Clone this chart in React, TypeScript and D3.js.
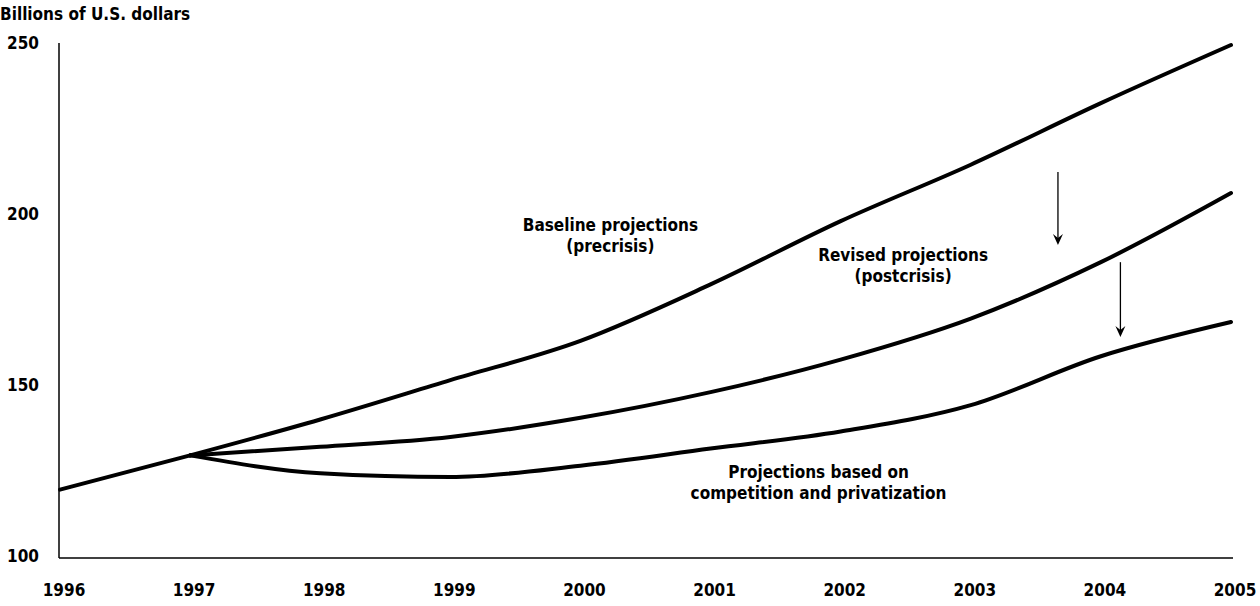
import React, { useEffect, useRef } from "react";
import * as d3 from "d3";

const years = [1996, 1997, 1998, 1999, 2000, 2001, 2002, 2003, 2004, 2005];
const baseline = [120, 130, 140.5, 152, 163.5, 180, 198.5, 215, 233, 250];
const revised = [120, 130, 132.5, 135.4, 141, 148.5, 158, 170, 186.5, 206.7];
const competition = [120, 130, 124.8, 123.7, 127, 132, 137, 144.7, 159, 169];
const yTicks = [100, 150, 200, 250];

// arrows: [year, from, to]
const arrows: [number, number, number][] = [
  [2003.67, 212.9, 191.5],
  [2004.15, 186.5, 164.6],
];

// labels: [year, value, lines]
const labels: [number, number, string[]][] = [
  [2000.23, 195.6, ["Baseline projections", "(precrisis)"]],
  [2002.48, 186.8, ["Revised projections", "(postcrisis)"]],
  [2001.83, 123.4, ["Projections based on", "competition and privatization"]],
];

const FONT = "'Liberation Sans Narrow', 'DejaVu Sans Condensed', 'Roboto Condensed', sans-serif";

const App: React.FC = () => {
  const svgRef = useRef<SVGSVGElement>(null);

  useEffect(() => {
    const width = 1260;
    const height = 606;
    const left = 60;
    const right = 1231;
    const top = 45;
    const bottom = 558;

    const svg = d3.select(svgRef.current).attr("width", width).attr("height", height);
    svg.selectAll("*").remove();

    const x = d3.scaleLinear().domain([1996, 2005]).range([left, right]);
    const y = d3.scaleLinear().domain([100, 250]).range([bottom, top]);

    // axes
    svg
      .append("line")
      .attr("x1", left - 1)
      .attr("x2", left - 1)
      .attr("y1", top - 2)
      .attr("y2", bottom)
      .attr("stroke", "#000")
      .attr("stroke-width", 1.5);
    svg
      .append("line")
      .attr("x1", left - 1)
      .attr("x2", right + 2)
      .attr("y1", bottom)
      .attr("y2", bottom)
      .attr("stroke", "#000")
      .attr("stroke-width", 1.5);

    svg
      .append("text")
      .attr("x", 0)
      .attr("y", 20)
      .attr("font-family", FONT)
      .attr("font-weight", "bold")
      .attr("font-size", 17)
      .text("Billions of U.S. dollars");

    svg
      .selectAll(".ytick")
      .data(yTicks)
      .enter()
      .append("text")
      .attr("x", 39)
      .attr("y", (d) => y(d) - 2)
      .attr("dy", "0.35em")
      .attr("text-anchor", "end")
      .attr("font-family", FONT)
      .attr("font-weight", "bold")
      .attr("font-size", 17)
      .text((d) => d);

    svg
      .selectAll(".xtick")
      .data(years)
      .enter()
      .append("text")
      .attr("x", (d) => x(d) + 4)
      .attr("y", 596)
      .attr("text-anchor", "middle")
      .attr("font-family", FONT)
      .attr("font-weight", "bold")
      .attr("font-size", 17)
      .text((d) => d);

    // shared straight segment 1996-1997, then smooth projections
    const straight = d3
      .line<number>()
      .x((_, i) => x(years[i]))
      .y((d) => y(d));
    const smooth = d3
      .line<number>()
      .x((_, i) => x(years[i + 1]))
      .y((d) => y(d))
      .curve(d3.curveMonotoneX);

    [competition, revised, baseline].forEach((s) => {
      svg
        .append("path")
        .attr("d", smooth(s.slice(1)))
        .attr("fill", "none")
        .attr("stroke", "#000")
        .attr("stroke-width", 4)
        .attr("stroke-linecap", "round")
        .attr("stroke-linejoin", "round");
    });
    svg
      .append("path")
      .attr("d", straight(baseline.slice(0, 2)))
      .attr("fill", "none")
      .attr("stroke", "#000")
      .attr("stroke-width", 4)
      .attr("stroke-linecap", "round");

    // arrows
    arrows.forEach(([yr, a, b]) => {
      const ax = x(yr);
      svg
        .append("line")
        .attr("x1", ax)
        .attr("x2", ax)
        .attr("y1", y(a))
        .attr("y2", y(b) - 6)
        .attr("stroke", "#000")
        .attr("stroke-width", 1.3);
      svg
        .append("path")
        .attr("d", `M${ax - 5},${y(b) - 11} L${ax},${y(b)} L${ax + 5},${y(b) - 11} L${ax},${y(b) - 7} Z`)
        .attr("fill", "#000");
    });

    labels.forEach(([yr, v, lines]) => {
      const t = svg
        .append("text")
        .attr("x", x(yr))
        .attr("y", y(v))
        .attr("text-anchor", "middle")
        .attr("font-family", FONT)
        .attr("font-weight", "bold")
        .attr("font-size", 17);
      lines.forEach((l, i) => {
        t.append("tspan")
          .attr("x", x(yr))
          .attr("dy", i === 0 ? 0 : 21)
          .text(l);
      });
    });
  }, []);

  return (
    <div style={{ position: "absolute", left: 0, top: 0, background: "#fff" }}>
      <svg ref={svgRef} style={{ display: "block" }}></svg>
    </div>
  );
};

export default App;
